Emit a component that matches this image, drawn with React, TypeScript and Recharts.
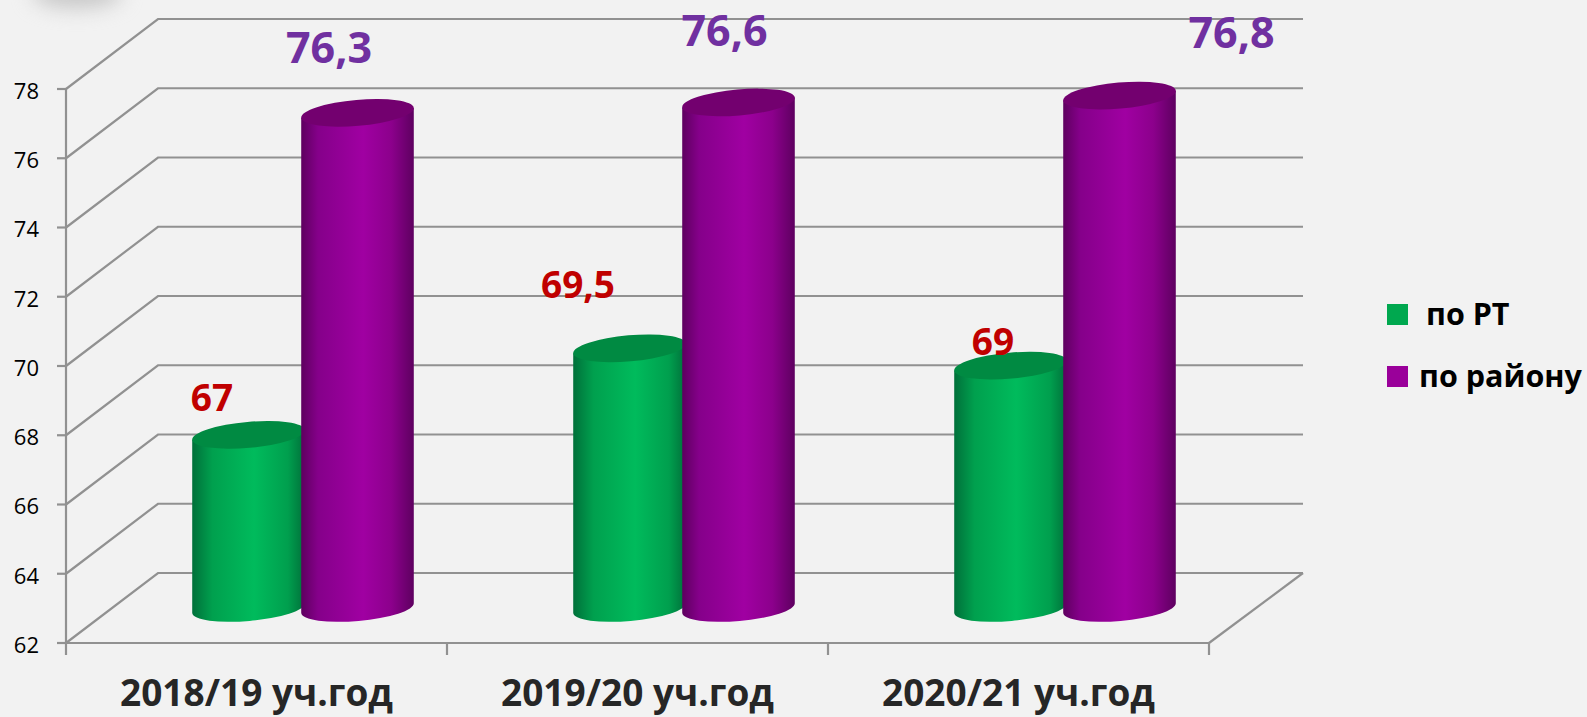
// Объёмная столбчатая диаграмма (цилиндры) — по РТ / по району (Recharts)
import { BarChart, Bar, XAxis, YAxis, CartesianGrid, Legend, LabelList } from 'recharts';

const YEARS = ['2018/19 уч.год', '2019/20 уч.год', '2020/21 уч.год'];
const PO_RT = [67, 69.5, 69];
const PO_RAIONU = [76.3, 76.6, 76.8];
const Y_TICKS = [62, 64, 66, 68, 70, 72, 74, 76, 78];

const chartData = YEARS.map((year, i) => ({ year, rt: PO_RT[i], raion: PO_RAIONU[i] }));

// подписи в оригинале сдвинуты вручную, поэтому смещения задаём отдельно
const RT_LABEL_NUDGE = [[-36.5, -24], [-51.5, -50], [-17.5, -11]];
const RAION_LABEL_NUDGE = [[-28.5, -50], [-14, -56.5], [112, -48]];

const WIDTH = 1587;
const HEIGHT = 717;
const FONT = '"Open Sans", sans-serif';
const GRID = '#919191';
const GRID_W = 2.2;
// глубина псевдо-3D
const DEPTH_X = 46;
const DEPTH_Y = 35;
const TILT = 5;

function Cylinder({ x, y, width, height, gradient, cap }: any) {
  const rx = width / 2;
  const ry = 13;
  const cx = x + rx + DEPTH_X;
  const top = y - DEPTH_Y;
  const bottom = y + height - DEPTH_Y;
  const sx = rx * Math.cos((TILT * Math.PI) / 180);
  const sy = rx * Math.sin((TILT * Math.PI) / 180);
  const body =
    `M${cx - sx},${top + sy} L${cx + sx},${top - sy} L${cx + sx},${bottom - sy} ` +
    `A${rx},${ry} ${-TILT} 0 1 ${cx - sx},${bottom + sy} Z`;
  return (
    <g>
      <path d={body} fill={`url(#${gradient})`} />
      <ellipse cx={cx} cy={top} rx={rx} ry={ry} fill={cap} transform={`rotate(${-TILT} ${cx} ${top})`} />
    </g>
  );
}

function valueLabel(color: string, size: number, nudge: number[][]) {
  return ({ x, y, width, value, index }: any) => {
    const [dx, dy] = nudge[index];
    return (
      <text
        x={x + width / 2 + DEPTH_X + dx}
        y={y - DEPTH_Y + dy}
        textAnchor="middle"
        fill={color}
        fontFamily={FONT}
        fontWeight={700}
        fontSize={size}
      >
        {String(value).replace('.', ',')}
      </text>
    );
  };
}

// линия сетки: диагональ боковой стенки + горизонталь задней стенки
function GridLine({ x1, y1, x2, y2 }: any) {
  const backY = y1 - DEPTH_Y * 2;
  return (
    <g key={`grid-${y1}`} fill="none" stroke={GRID} strokeWidth={GRID_W}>
      <polyline points={`${x1},${y1} ${x1 + DEPTH_X * 2},${backY} ${x2 + DEPTH_X * 2 + 2},${backY}`} />
      {y1 === y2 && y1 > 640 ? <line x1={x2} y1={y1} x2={x2 + DEPTH_X * 2 + 2} y2={backY} /> : null}
    </g>
  );
}

function YearTick({ x, y, payload, index, band }: any) {
  const half = band / 2;
  return (
    <g>
      <line x1={x - half} y1={y - 8} x2={x - half} y2={y + 4} stroke={GRID} strokeWidth={GRID_W} />
      {index === YEARS.length - 1 ? (
        <line x1={x + half} y1={y - 8} x2={x + half} y2={y + 4} stroke={GRID} strokeWidth={GRID_W} />
      ) : null}
      <text x={x} y={706} textAnchor="middle" fill="#262626" fontFamily={FONT} fontWeight={700} fontSize={37}>
        {payload.value}
      </text>
    </g>
  );
}

const LEGEND_ITEMS = [
  { name: 'по РТ', color: '#00a84f', textLeft: 217, top: 14 },
  { name: 'по району', color: '#9a009a', textLeft: 210, top: 76 },
];

function LegendBox() {
  return (
    <div style={{ position: 'relative', width: 378, height: 120 }}>
      {LEGEND_ITEMS.map((item) => (
        <div key={item.name}>
          <div
            style={{
              position: 'absolute', left: 178, top: item.top, width: 21, height: 21, background: item.color,
            }}
          />
          <div
            style={{
              position: 'absolute', left: item.textLeft, top: item.top - 13, fontFamily: FONT, fontWeight: 700,
              fontSize: 30.5, lineHeight: '44px', color: '#000', whiteSpace: 'nowrap',
            }}
          >
            {item.name}
          </div>
        </div>
      ))}
    </div>
  );
}

export default function App() {
  const band = (WIDTH - 66 - 378) / YEARS.length;
  return (
    <div style={{ position: 'relative', width: WIDTH, height: HEIGHT, background: '#f2f2f2', overflow: 'hidden' }}>
      <style>{'body{margin:0;background:#f2f2f2}'}</style>
      <div
        style={{
          position: 'absolute', left: 32, top: -22, width: 90, height: 30, borderRadius: '50%',
          background: '#c6c6c6', filter: 'blur(10px)',
        }}
      />
      <BarChart
        width={WIDTH}
        height={HEIGHT}
        data={chartData}
        margin={{ top: 89, right: 0, bottom: 0, left: 0 }}
        barSize={113}
        barGap={-4}
        style={{ position: 'absolute', left: 0, top: 0 }}
      >
        <defs>
          <linearGradient id="rtBody" x1="0" y1="0" x2="1" y2="0">
            <stop offset="0" stopColor="#00703a" />
            <stop offset="0.18" stopColor="#00a04e" />
            <stop offset="0.55" stopColor="#00bb5c" />
            <stop offset="0.85" stopColor="#009f4e" />
            <stop offset="1" stopColor="#00703a" />
          </linearGradient>
          <linearGradient id="raionBody" x1="0" y1="0" x2="1" y2="0">
            <stop offset="0" stopColor="#5e005f" />
            <stop offset="0.15" stopColor="#85008a" />
            <stop offset="0.55" stopColor="#a000a2" />
            <stop offset="0.8" stopColor="#8c008c" />
            <stop offset="1" stopColor="#5e0060" />
          </linearGradient>
        </defs>
        <CartesianGrid vertical={false} horizontal={(p: any) => <GridLine key={p.key ?? p.y1} {...p} />} />
        <XAxis
          dataKey="year"
          height={74}
          interval={0}
          axisLine={{ stroke: GRID, strokeWidth: GRID_W }}
          tickLine={false}
          tick={(p: any) => <YearTick {...p} band={band} />}
        />
        <YAxis
          width={66}
          domain={[62, 78]}
          ticks={Y_TICKS}
          interval={0}
          axisLine={{ stroke: GRID, strokeWidth: GRID_W }}
          tickLine={{ stroke: GRID, strokeWidth: GRID_W }}
          tickSize={9}
          tickMargin={18}
          tick={{ fontSize: 22, fill: '#000', fontFamily: FONT, dy: 2 }}
        />
        <Legend
          layout="vertical"
          align="right"
          verticalAlign="middle"
          width={378}
          wrapperStyle={{ top: 290, right: 0 }}
          content={() => <LegendBox />}
        />
        <Bar
          dataKey="rt"
          name="по РТ"
          isAnimationActive={false}
          shape={(p: any) => <Cylinder {...p} gradient="rtBody" cap="#008a42" />}
        >
          <LabelList dataKey="rt" content={valueLabel('#c00000', 37, RT_LABEL_NUDGE)} />
        </Bar>
        <Bar
          dataKey="raion"
          name="по району"
          isAnimationActive={false}
          shape={(p: any) => <Cylinder {...p} gradient="raionBody" cap="#73006f" />}
        >
          <LabelList dataKey="raion" content={valueLabel('#7030a0', 43, RAION_LABEL_NUDGE)} />
        </Bar>
      </BarChart>
    </div>
  );
}
